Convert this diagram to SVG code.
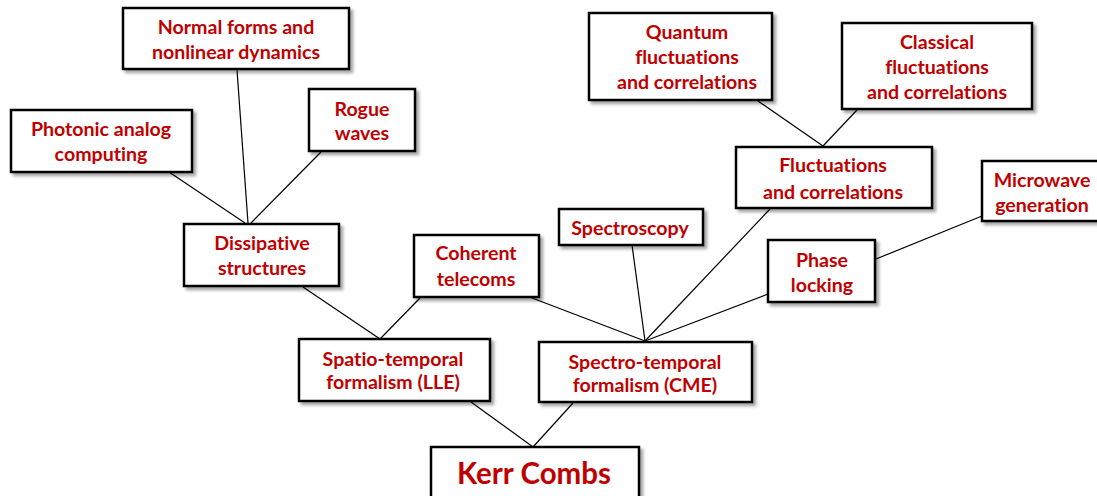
<svg xmlns="http://www.w3.org/2000/svg" width="1097" height="496" viewBox="0 0 1097 496">
<defs>
<filter id="sh" x="-10%" y="-10%" width="130%" height="140%">
<feDropShadow dx="3" dy="3" stdDeviation="1.8" flood-color="#000" flood-opacity="0.35"/>
</filter>
<style>
.box{fill:#fff;stroke:#000;stroke-width:2.5;filter:url(#sh)}
.t{font-family:Lato,"Open Sans","Liberation Sans",sans-serif;font-weight:bold;font-size:19.6px;fill:#C00000;text-anchor:middle;font-variant-ligatures:none}
.big{font-size:29.5px}
.c line{stroke:#000;stroke-width:1.2}
</style>
</defs>
<rect width="1097" height="496" fill="#fff"/>
<g id="connectors" class="c">
<line x1="169" y1="172" x2="245" y2="223"/>
<line x1="237" y1="70" x2="248" y2="223"/>
<line x1="321" y1="152" x2="251" y2="223"/>
<line x1="303" y1="287" x2="380" y2="339"/>
<line x1="420" y1="298" x2="380" y2="339"/>
<line x1="471" y1="402" x2="533" y2="447"/>
<line x1="573" y1="403" x2="533" y2="447"/>
<line x1="532" y1="298" x2="645" y2="341"/>
<line x1="632" y1="245" x2="645" y2="341"/>
<line x1="770" y1="209" x2="645" y2="341"/>
<line x1="768" y1="294" x2="645" y2="341"/>
<line x1="758" y1="101" x2="823" y2="146"/>
<line x1="857" y1="110" x2="823" y2="146"/>
<line x1="876" y1="259" x2="982" y2="216"/>
</g>
<g id="normal-forms"><rect class="box" x="123" y="8" width="226" height="61"/><text class="t" x="236" y="33.5">Normal forms and</text><text class="t" x="236" y="58.5">nonlinear dynamics</text></g>
<g id="photonic"><rect class="box" x="11" y="110" width="181" height="62"/><text class="t" x="101" y="135.5">Photonic analog</text><text class="t" x="101" y="160.5">computing</text></g>
<g id="rogue"><rect class="box" x="309" y="89" width="106" height="62"/><text class="t" x="362" y="115.5">Rogue</text><text class="t" x="362" y="139.5">waves</text></g>
<g id="dissipative"><rect class="box" x="184" y="224" width="155" height="62"/><text class="t" x="262" y="249.5">Dissipative</text><text class="t" x="262" y="274.5">structures</text></g>
<g id="coherent"><rect class="box" x="414" y="235" width="125" height="62"/><text class="t" x="476" y="259.5">Coherent</text><text class="t" x="476" y="285.5">telecoms</text></g>
<g id="spatio"><rect class="box" x="299" y="339" width="191" height="62"/><text class="t" x="393" y="365.5">Spatio-temporal</text><text class="t" x="393" y="388.5">formalism (LLE)</text></g>
<g id="spectro"><rect class="box" x="539" y="342" width="213" height="60"/><text class="t" x="645" y="368.5">Spectro-temporal</text><text class="t" x="645" y="391.5">formalism (CME)</text></g>
<g id="kerr"><rect class="box" x="431" y="447" width="208" height="60"/><text class="t big" x="534" y="483.5">Kerr Combs</text></g>
<g id="spectroscopy"><rect class="box" x="559" y="209" width="144" height="36"/><text class="t" x="630" y="234.5">Spectroscopy</text></g>
<g id="quantum"><rect class="box" x="589" y="13" width="183" height="87"/><text class="t" x="687" y="38.5">Quantum</text><text class="t" x="687" y="63.5">fluctuations</text><text class="t" x="687" y="88.5">and correlations</text></g>
<g id="classical"><rect class="box" x="842" y="23" width="190" height="86"/><text class="t" x="937" y="48.5">Classical</text><text class="t" x="937" y="73.5">fluctuations</text><text class="t" x="937" y="98.5">and correlations</text></g>
<g id="fluctuations"><rect class="box" x="736" y="147" width="196" height="61"/><text class="t" x="833" y="171.5">Fluctuations</text><text class="t" x="833" y="198.5">and correlations</text></g>
<g id="phase"><rect class="box" x="768" y="240" width="107" height="62"/><text class="t" x="822" y="266.5">Phase</text><text class="t" x="822" y="291.5">locking</text></g>
<g id="microwave"><rect class="box" x="982" y="161" width="120" height="60"/><text class="t" x="1042" y="186.5">Microwave</text><text class="t" x="1042" y="211.5">generation</text></g>
</svg>
